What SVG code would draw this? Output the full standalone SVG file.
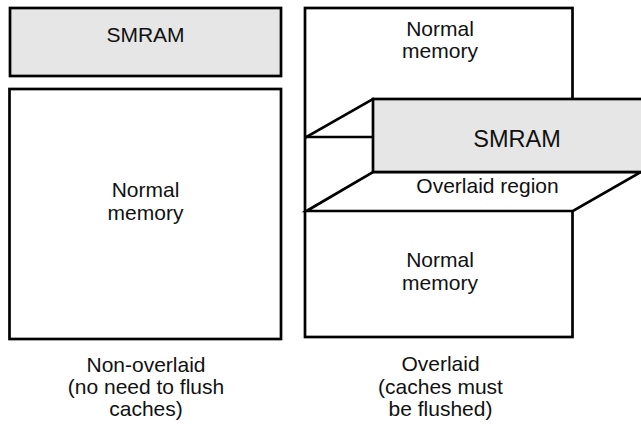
<svg xmlns="http://www.w3.org/2000/svg" width="641" height="424" viewBox="0 0 641 424">
<style>
.box{fill:#ffffff;stroke:#000000;stroke-width:2.7;stroke-linejoin:miter}
.sm{fill:#e6e6e6;stroke:#000000;stroke-width:2.7}
.ln{fill:none;stroke:#000000;stroke-width:2.7;stroke-linecap:square}
text{font-family:"Liberation Sans",Arial,sans-serif;font-size:21px;fill:#111111;text-anchor:middle}
.big{font-size:23.5px}
</style>
<rect width="641" height="424" fill="#ffffff"/>
<g id="left-smram">
<rect class="sm" x="10" y="8" width="271" height="68"/>
<text x="145.5" y="42">SMRAM</text>
</g>
<g id="left-normal">
<rect class="box" x="9.5" y="89" width="271.5" height="250"/>
<text x="145.5" y="197">Normal</text>
<text x="145.5" y="220">memory</text>
</g>
<g id="right-memory">
<rect class="box" x="305" y="8" width="267.5" height="329"/>
<text x="440" y="36">Normal</text>
<text x="440" y="58">memory</text>
<text x="440" y="267">Normal</text>
<text x="440" y="290">memory</text>
</g>
<g id="connectors">
<polygon class="box" points="306.5,211 373,172 641,172 573,211"/>
<line class="ln" x1="306.5" y1="137" x2="373" y2="99"/>
<line class="ln" x1="306.5" y1="137" x2="373" y2="137"/>
</g>
<g id="overlaid-region">
<text x="487.5" y="193">Overlaid region</text>
</g>
<g id="right-smram">
<rect class="sm" x="373" y="99" width="280" height="73"/>
<text class="big" x="517" y="147">SMRAM</text>
</g>
<g id="captions">
<text x="146" y="372">Non-overlaid</text>
<text x="146" y="394">(no need to flush</text>
<text x="146" y="416">caches)</text>
<text x="440.5" y="371">Overlaid</text>
<text x="440.5" y="394">(caches must</text>
<text x="440.5" y="416">be flushed)</text>
</g>
</svg>
